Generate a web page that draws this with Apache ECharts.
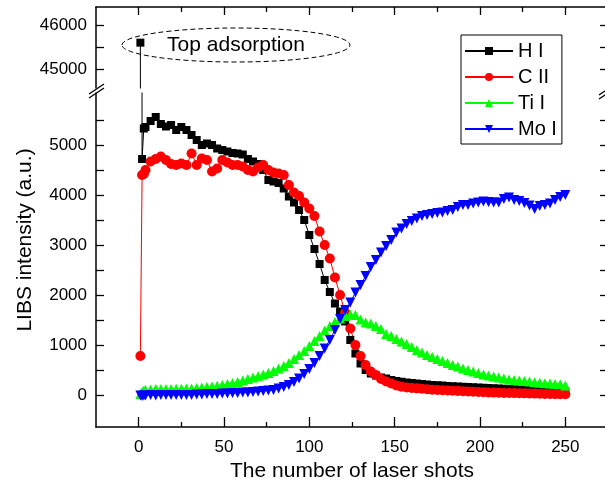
<!DOCTYPE html>
<html>
<head>
<meta charset="utf-8">
<script src="https://cdn.jsdelivr.net/npm/echarts@6/dist/echarts.min.js"></script>
<style>
  html, body { margin: 0; background: #fff; }
  #chart { width: 605px; height: 483px; }
</style>
</head>
<body>
<div id="chart"></div>
<script>
// shot numbers (read every third shot off the plot)
const shots = [1, 2, 3, 4, 7, 10, 13, 16, 19, 22, 25, 28, 31, 34, 37, 40, 43, 46, 49, 52,
  55, 58, 61, 64, 67, 70, 73, 76, 79, 82, 85, 88, 91, 94, 97, 100, 103, 106, 109, 112,
  115, 118, 121, 124, 127, 130, 133, 136, 139, 142, 145, 148, 151, 154, 157, 160, 163, 166, 169, 172,
  175, 178, 181, 184, 187, 190, 193, 196, 199, 202, 205, 208, 211, 214, 217, 220, 223, 226, 229, 232,
  235, 238, 241, 244, 247, 250]

const hI = [45600, 4720, 5330, 5360, 5480, 5560, 5420, 5370, 5400, 5300,
  5360, 5300, 5200, 5100, 5000, 5030, 5000, 4930, 4900, 4870,
  4840, 4830, 4810, 4720, 4670, 4620, 4500, 4300, 4270, 4240,
  4130, 3970, 3850, 3700, 3500, 3200, 2920, 2620, 2300, 2060,
  1830, 1670, 1470, 1100, 830, 630, 500, 430, 390, 350,
  330, 300, 280, 265, 250, 240, 230, 220, 210, 200,
  195, 190, 180, 175, 170, 165, 160, 155, 150, 145,
  140, 135, 130, 125, 120, 115, 110, 105, 100, 97,
  93, 90, 85, 80, 78, 75]

const cII = [780, 4400, 4420, 4500, 4670, 4720, 4770, 4700, 4620, 4600,
  4630, 4600, 4830, 4600, 4730, 4700, 4470, 4530, 4700, 4650,
  4600, 4600, 4570, 4500, 4470, 4550, 4600, 4500, 4450, 4430,
  4400, 4200, 4050, 3980, 3850, 3730, 3580, 3270, 3000, 2730,
  2350, 2000, 1650, 1330, 1000, 780, 600, 470, 400, 320,
  270, 230, 190, 165, 150, 140, 133, 125, 115, 105,
  100, 95, 90, 85, 80, 75, 70, 65, 60, 55,
  50, 48, 45, 42, 40, 38, 35, 33, 30, 28,
  25, 22, 20, 18, 15, 15]

const tiI = [20, 60, 90, 100, 110, 120, 120, 120, 120, 125,
  125, 130, 130, 140, 150, 160, 170, 185, 200, 220,
  240, 260, 290, 320, 350, 380, 410, 440, 480, 530,
  580, 640, 720, 800, 880, 980, 1080, 1180, 1290, 1380,
  1460, 1530, 1580, 1610, 1600, 1510, 1450, 1430, 1380, 1320,
  1220, 1180, 1120, 1070, 1020, 960, 900, 850, 800, 760,
  720, 680, 640, 600, 570, 530, 500, 470, 440, 410,
  390, 370, 350, 330, 310, 300, 290, 280, 270, 255,
  245, 235, 230, 220, 215, 190]

const moI = [-10, -20, -10, -10, 0, -10, 0, 0, 0, 0,
  0, 0, 0, 10, 10, 20, 20, 20, 30, 30,
  40, 40, 50, 50, 60, 70, 80, 90, 100, 130,
  160, 200, 260, 330, 420, 520, 640, 780, 930, 1100,
  1300, 1520, 1700, 1850, 2050, 2200, 2380, 2560, 2700, 2850,
  2980, 3100, 3250, 3330, 3420, 3480, 3530, 3580, 3600, 3620,
  3640, 3650, 3680, 3700, 3760, 3800, 3800, 3830, 3850, 3870,
  3860, 3850, 3850, 3920, 3950, 3900, 3880, 3840, 3790, 3720,
  3780, 3800, 3830, 3900, 3960, 4000]

// tick labels
const xMajor = [0, 50, 100, 150, 200, 250]
const xMinor = [25, 75, 125, 175, 225, 275]
const yLowLabels = [0, 1000, 2000, 3000, 4000, 5000]
const yLowTicks = [0, 500, 1000, 1500, 2000, 2500, 3000, 3500, 4000, 4500, 5000, 5500]
const yTopLabels = [45000, 46000]
const yTopTicks = [45000, 45500, 46000]

const FONT = 'Liberation Sans, Arial, sans-serif'
const AXIS_LINE = { show: true, onZero: false, lineStyle: { color: '#000', width: 1.5 } }
const NO_LINE = { show: false, onZero: false }

function pairs(ys, n) {
  return shots.slice(0, n || shots.length).map((s, i) => [s, ys[i]])
}

function label(values) {
  return {
    show: true, customValues: values, fontSize: 17, fontFamily: FONT, color: '#000',
    formatter: (v) => String(v)
  }
}

function xAxis(grid, position, ticks, len, extra) {
  return Object.assign({
    type: 'value', gridIndex: grid, position: position, min: -25, max: 275,
    axisLine: AXIS_LINE,
    axisTick: { show: true, inside: true, length: len, customValues: ticks, lineStyle: { color: '#000', width: 1.3 } },
    axisLabel: { show: false },
    splitLine: { show: false }
  }, extra || {})
}

function yAxis(grid, position, min, max, ticks, labels) {
  return {
    type: 'value', gridIndex: grid, position: position, min: min, max: max,
    axisLine: AXIS_LINE,
    axisTick: { show: true, inside: true, length: 8, customValues: ticks, lineStyle: { color: '#000', width: 1.3 } },
    axisLabel: labels ? Object.assign(label(labels), { margin: 9 }) : { show: false },
    splitLine: { show: false }
  }
}

const chart = echarts.init(document.getElementById('chart'))

const option = {
  animation: false,
  backgroundColor: '#fff',
  grid: [
    { left: 96, right: -3, top: 7, bottom: 395, outerBoundsMode: 'none' },
    { left: 96, right: -3, top: 93, bottom: 56, outerBoundsMode: 'none' }
  ],
  xAxis: [
    xAxis(0, 'top', xMajor, 8),
    xAxis(0, 'top', xMinor, 5, { axisLine: NO_LINE }),
    xAxis(1, 'bottom', xMajor, 10, {
      axisLabel: Object.assign(label(xMajor), { margin: 12 }),
      name: 'The number of laser shots',
      nameLocation: 'middle',
      nameGap: 30,
      nameTextStyle: { fontSize: 21, fontFamily: FONT, color: '#000' }
    }),
    xAxis(1, 'bottom', xMinor, 5, { axisLine: NO_LINE })
  ],
  yAxis: [
    yAxis(0, 'left', 44570, 46410, yTopTicks, yTopLabels),
    yAxis(0, 'right', 44570, 46410, yTopTicks, null),
    yAxis(1, 'left', -640, 6040, yLowTicks, yLowLabels),
    yAxis(1, 'right', -640, 6040, yLowTicks, null)
  ],
  legend: {
    data: ['H I', 'C II', 'Ti I', 'Mo I'],
    orient: 'vertical',
    left: 461,
    top: 35,
    padding: [6, 5, 5, 3],
    itemGap: 6,
    itemWidth: 48,
    itemHeight: 10,
    borderColor: '#000',
    borderWidth: 1,
    textStyle: { fontSize: 20, lineHeight: 20, fontFamily: FONT, color: '#000' }
  },
  series: [
    {
      name: 'H I', type: 'line', xAxisIndex: 2, yAxisIndex: 2,
      data: pairs(hI), symbol: 'rect', symbolSize: 8, showAllSymbol: true,
      itemStyle: { color: '#000' }, lineStyle: { color: '#000', width: 1 }
    },
    {
      name: 'H I top', type: 'line', xAxisIndex: 0, yAxisIndex: 0,
      data: pairs(hI, 2), symbol: 'rect', symbolSize: 8, showAllSymbol: true,
      itemStyle: { color: '#000' }, lineStyle: { color: '#000', width: 1 }
    },
    {
      name: 'C II', type: 'line', xAxisIndex: 2, yAxisIndex: 2,
      data: pairs(cII), symbol: 'circle', symbolSize: 10, showAllSymbol: true,
      itemStyle: { color: '#ff0000' }, lineStyle: { color: '#ff0000', width: 1 }
    },
    {
      name: 'Ti I', type: 'line', xAxisIndex: 2, yAxisIndex: 2,
      data: pairs(tiI), symbol: 'triangle', symbolSize: 10, showAllSymbol: true,
      itemStyle: { color: '#00ff00' }, lineStyle: { color: '#00ff00', width: 1 }
    },
    {
      name: 'Mo I', type: 'line', xAxisIndex: 2, yAxisIndex: 2,
      data: pairs(moI), symbol: 'triangle', symbolRotate: 180, symbolSize: 10, showAllSymbol: true,
      itemStyle: { color: '#0000ff' }, lineStyle: { color: '#0000ff', width: 1 }
    }
  ],
  graphic: [
    {
      type: 'ellipse',
      shape: { cx: 236, cy: 45, rx: 114, ry: 17 },
      style: { fill: null, stroke: '#000', lineWidth: 1, lineDash: [5, 3] },
      z: 10
    },
    {
      type: 'text', x: 236, y: 45, z: 10,
      style: {
        text: 'Top adsorption', fontSize: 21, fontFamily: FONT, fill: '#000',
        align: 'center', verticalAlign: 'middle', textAlign: 'center', textVerticalAlign: 'middle'
      }
    },
    {
      type: 'text', x: 25, y: 240, rotation: Math.PI / 2, z: 10,
      style: {
        text: 'LIBS intensity (a.u.)', fontSize: 21, fontFamily: FONT, fill: '#000',
        align: 'center', verticalAlign: 'middle', textAlign: 'center', textVerticalAlign: 'middle'
      }
    },
    // axis break marks
    { type: 'line', shape: { x1: 89, y1: 94, x2: 104, y2: 84 }, style: { stroke: '#000', lineWidth: 1.3 }, z: 10 },
    { type: 'line', shape: { x1: 89, y1: 98, x2: 104, y2: 88 }, style: { stroke: '#000', lineWidth: 1.3 }, z: 10 },
    { type: 'line', shape: { x1: 599, y1: 95, x2: 614, y2: 85 }, style: { stroke: '#000', lineWidth: 1.3 }, z: 10 },
    { type: 'line', shape: { x1: 599, y1: 99, x2: 614, y2: 89 }, style: { stroke: '#000', lineWidth: 1.3 }, z: 10 }
  ]
}

chart.setOption(option)
</script>
</body>
</html>
